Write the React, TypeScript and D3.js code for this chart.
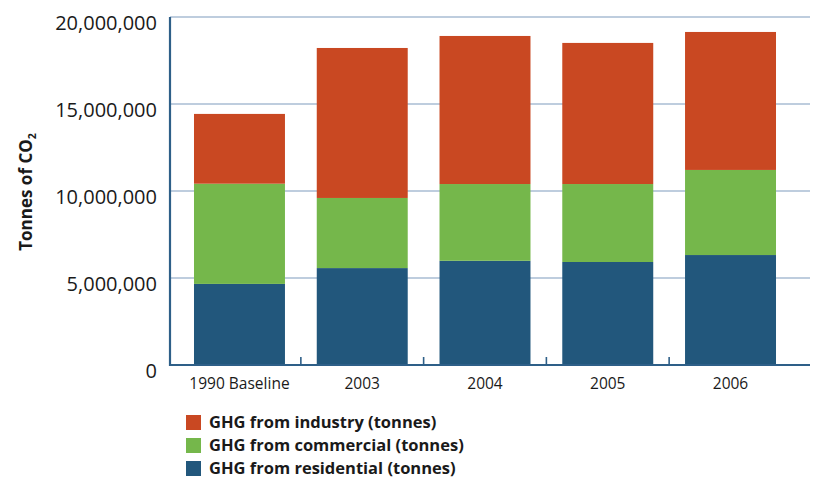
import React from "react";
import * as d3 from "d3";

// Greenhouse gas emissions by sector, tonnes of CO2
const categories = ["1990 Baseline", "2003", "2004", "2005", "2006"];
const residential = [4660000, 5570000, 5990000, 5920000, 6320000];
const commercial = [5760000, 4030000, 4410000, 4480000, 4890000];
const industry = [4010000, 8620000, 8510000, 8110000, 7930000];
const yTicks = [0, 5000000, 10000000, 15000000, 20000000];

const seriesKeys = ["residential", "commercial", "industry"];
const seriesLabels: Record<string, string> = {
  industry: "GHG from industry (tonnes)",
  commercial: "GHG from commercial (tonnes)",
  residential: "GHG from residential (tonnes)",
};
const colors: Record<string, string> = {
  industry: "#c94822",
  commercial: "#75b74b",
  residential: "#22577c",
};
const legendOrder = ["industry", "commercial", "residential"];

const W = 815;
const H = 479;
const plotLeft = 170;
const plotRight = 810;
const plotTop = 17;
const plotBottom = 365;
const font = "'Open Sans', sans-serif";
const axisColor = "#2e5f88";
const gridColor = "#a9bdd3";

export default function App() {
  const rows = categories.map((c, i) => ({
    category: c,
    residential: residential[i],
    commercial: commercial[i],
    industry: industry[i],
  }));

  const stack = d3.stack<any>().keys(seriesKeys);
  const stacked = stack(rows);

  const x = d3
    .scaleBand<string>()
    .domain(categories)
    .range([178.1, 791.9])
    .paddingInner(0.259)
    .paddingOuter(0.1295);

  const y = d3.scaleLinear().domain([0, 20000000]).range([plotBottom, plotTop]);
  const fmt = d3.format(",");

  const step = x.step();
  const boundaries = categories.slice(1).map((c) => (x(c) as number) - (step - x.bandwidth()) / 2);

  return (
    <svg
      width={W}
      height={H}
      style={{ position: "absolute", left: 0, top: 0, background: "#fff" }}
      fontFamily={font}
    >
      {/* horizontal gridlines */}
      {yTicks.slice(1).map((t) => (
        <line
          key={t}
          x1={plotLeft}
          x2={plotRight}
          y1={y(t)}
          y2={y(t)}
          stroke={gridColor}
          strokeWidth={1.3}
        />
      ))}

      {/* stacked bars */}
      {stacked.map((s) => (
        <g key={s.key} fill={colors[s.key]}>
          {s.map((d, i) => (
            <rect
              key={i}
              x={x(categories[i])}
              y={y(d[1])}
              width={x.bandwidth()}
              height={y(d[0]) - y(d[1])}
            />
          ))}
        </g>
      ))}

      {/* axes */}
      <line x1={plotLeft} x2={plotLeft} y1={plotTop} y2={plotBottom + 1} stroke={axisColor} strokeWidth={2.2} />
      <line x1={plotLeft - 1} x2={plotRight} y1={plotBottom} y2={plotBottom} stroke={axisColor} strokeWidth={2.2} />
      {boundaries.map((b, i) => (
        <line key={i} x1={b} x2={b} y1={plotBottom} y2={plotBottom - 8} stroke={axisColor} strokeWidth={1.6} />
      ))}

      {/* y tick labels */}
      {yTicks.map((t) => (
        <text
          key={t}
          x={157}
          y={y(t) + 6}
          dy="0.36em"
          textAnchor="end"
          fontSize={20}
          fill="#1a1a1a"
        >
          {fmt(t)}
        </text>
      ))}

      {/* x tick labels */}
      {categories.map((c) => (
        <text
          key={c}
          x={(x(c) as number) + x.bandwidth() / 2}
          y={389}
          textAnchor="middle"
          fontSize={15.5}
          fill="#1a1a1a"
        >
          {c}
        </text>
      ))}

      {/* y axis title */}
      <text
        transform={`translate(32,${192}) rotate(-90)`}
        textAnchor="middle"
        fontSize={17}
        fontWeight="bold"
        fill="#1a1a1a"
      >
        Tonnes of CO
        <tspan fontSize={10.5} dy={4}>2</tspan>
      </text>

      {/* legend */}
      {legendOrder.map((k, i) => (
        <g key={k} transform={`translate(186,${415 + i * 23})`}>
          <rect width={15} height={15} fill={colors[k]} />
          <text x={23} y={7.5} dy="0.36em" fontSize={16.5} fontWeight="bold" fill="#1a1a1a">
            {seriesLabels[k]}
          </text>
        </g>
      ))}
    </svg>
  );
}
